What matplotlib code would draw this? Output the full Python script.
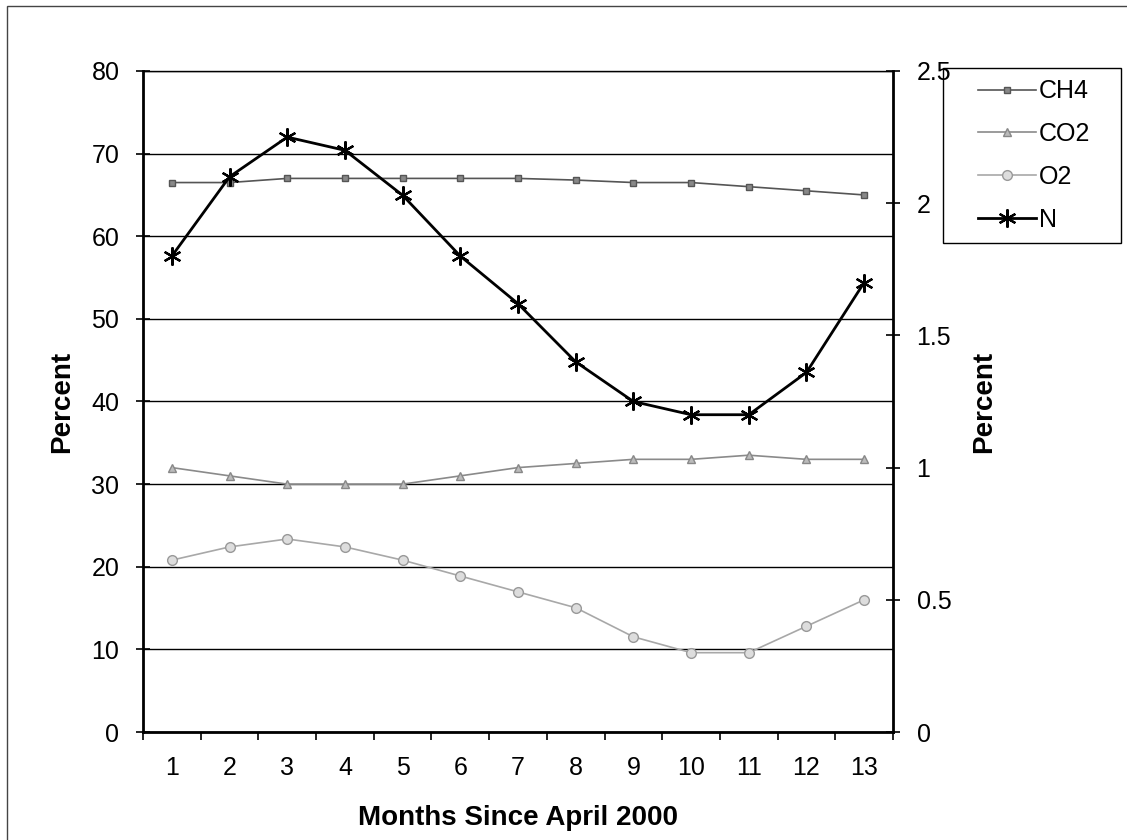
import matplotlib
matplotlib.use("Agg")
import matplotlib.pyplot as plt
from matplotlib.patches import Rectangle

plt.rcParams['font.family'] = ['Liberation Sans', 'DejaVu Sans']

months = list(range(1, 14))
ch4 = [66.5, 66.5, 67.0, 67.0, 67.0, 67.0, 67.0, 66.8, 66.5, 66.5, 66.0, 65.5, 65.0]
co2 = [32.0, 31.0, 30.0, 30.0, 30.0, 31.0, 32.0, 32.5, 33.0, 33.0, 33.5, 33.0, 33.0]
o2 = [0.65, 0.70, 0.73, 0.70, 0.65, 0.59, 0.53, 0.47, 0.36, 0.30, 0.30, 0.40, 0.50]
n2 = [1.80, 2.10, 2.25, 2.20, 2.03, 1.80, 1.62, 1.40, 1.25, 1.20, 1.20, 1.36, 1.70]
left_ticks = [0, 10, 20, 30, 40, 50, 60, 70, 80]
right_ticks = [0, 0.5, 1, 1.5, 2, 2.5]
right_labels = ['0', '0.5', '1', '1.5', '2', '2.5']

W, H = 1127, 840
fig = plt.figure(figsize=(W / 100, H / 100), dpi=100)
ax = fig.add_axes([143 / W, 108 / H, 750 / W, 661 / H])
ax2 = ax.twinx()

# primary axis: CH4 and CO2
l1, = ax.plot(months, ch4, color='#555555', lw=1.2, marker='s', ms=5,
              mfc='#888888', mec='#555555', label='CH4')
l2, = ax.plot(months, co2, color='#8a8a8a', lw=1.2, marker='^', ms=6,
              mfc='#bbbbbb', mec='#888888', label='CO2')
# secondary axis: O2 and N
l3, = ax2.plot(months, o2, color='#a8a8a8', lw=1.2, marker='o', ms=7,
               mfc='#dddddd', mec='#999999', label='O2')
l4, = ax2.plot(months, n2, color='black', lw=2.0, marker=(6, 2, 0), ms=13,
               mew=1.6, mec='black', label='N')

ax.set_xlim(0.5, 13.5)
ax.set_ylim(0, 80)
ax2.set_ylim(0, 2.5)

ax.set_yticks(left_ticks)
ax.set_yticklabels([str(t) for t in left_ticks], fontsize=18)
ax2.set_yticks(right_ticks)
ax2.set_yticklabels(right_labels, fontsize=18)
ax.set_xticks(months)
ax.set_xticklabels([str(m) for m in months], fontsize=18)
ax.set_xticks([m + 0.5 for m in range(0, 14)], minor=True)
ax.tick_params(axis='x', which='major', length=0, pad=17)
ax.tick_params(axis='x', which='minor', length=6, width=1.2, direction='out')
ax.tick_params(axis='y', length=10, width=1.2, direction='inout', pad=12)
ax2.tick_params(axis='y', length=10, width=1.2, direction='inout', pad=12)

ax.yaxis.grid(True, color='black', lw=1.0)
ax.set_axisbelow(True)

for sp in ['left', 'bottom']:
    ax.spines[sp].set_linewidth(2.0)
ax.spines['top'].set_linewidth(1.0)
ax2.spines['right'].set_linewidth(2.0)
ax2.spines['top'].set_visible(False)
ax2.spines['left'].set_visible(False)
ax2.spines['bottom'].set_visible(False)
ax.spines['right'].set_visible(False)

ax.set_ylabel('Percent', fontsize=20, fontweight='bold', labelpad=12)
ax2.set_ylabel('Percent', fontsize=20, fontweight='bold', labelpad=14)
ax.set_xlabel('Months Since April 2000', fontsize=20, fontweight='bold', labelpad=18)

# legend box
box_x0, box_y0, box_x1, box_y1 = 943, 68, 1121, 243
fig.patches.append(Rectangle((box_x0 / W, 1 - box_y1 / H),
                             (box_x1 - box_x0) / W, (box_y1 - box_y0) / H,
                             transform=fig.transFigure, fill=False,
                             edgecolor='black', lw=1.0))
leg = fig.legend(handles=[l1, l2, l3, l4], loc='center',
                 bbox_to_anchor=((box_x0 + box_x1) / 2 / W + 0.002,
                                 1 - (box_y0 + box_y1) / 2 / H),
                 fontsize=18, frameon=False,
                 handlelength=2.3, handletextpad=0.12, labelspacing=0.75,
                 borderpad=0.0, borderaxespad=0)

# outer chart frame
fig.patches.append(Rectangle((7 / W, -0.01), 1.1, 834 / H + 0.01,
                             transform=fig.transFigure, fill=False,
                             edgecolor='#444444', lw=1.0))

fig.savefig('out.png', dpi=100)
